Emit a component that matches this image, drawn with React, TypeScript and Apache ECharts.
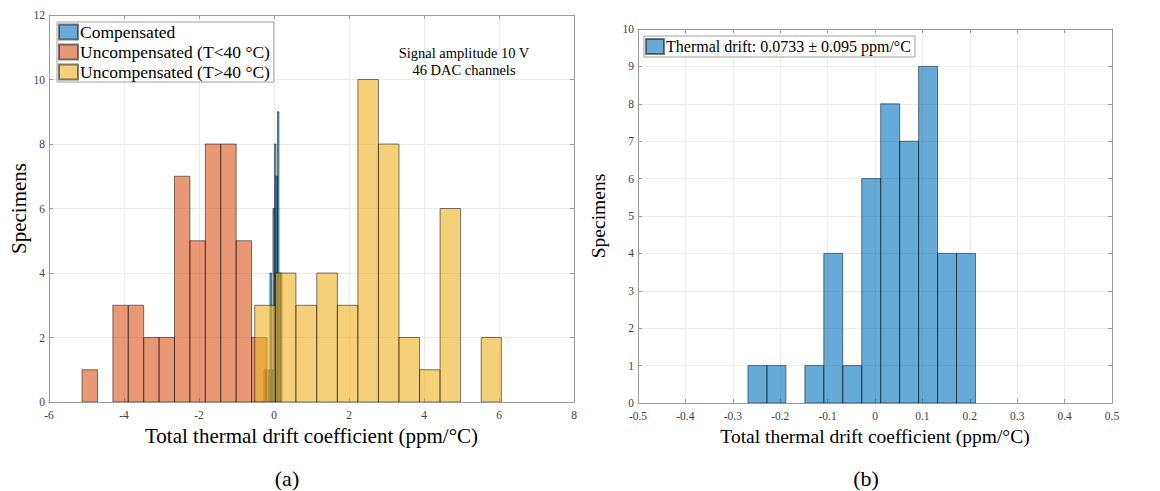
import React, { useEffect, useRef } from "react";
import * as echarts from "echarts";

// ---- data ----
// Compensated channels: bin edges and counts (same data in both panels)
const compEdges = [-0.268, -0.228, -0.188, -0.148, -0.108, -0.068, -0.028, 0.012, 0.052, 0.092, 0.132, 0.172, 0.212];
const compCounts = [1, 1, 0, 1, 4, 1, 6, 8, 7, 9, 4, 4];
// Uncompensated, T < 40 °C
const lowEdges = [-5.119, -4.708, -4.297, -3.886, -3.475, -3.064, -2.653, -2.242, -1.831, -1.42, -1.009, -0.598, -0.187];
const lowCounts = [1, 0, 3, 3, 2, 2, 7, 5, 8, 8, 5, 2];
// Uncompensated, T > 40 °C
const highEdges = [-0.515, 0.04, 0.585, 1.14, 1.69, 2.237, 2.785, 3.333, 3.881, 4.429, 4.977, 5.525, 6.063];
const highCounts = [3, 4, 3, 4, 3, 10, 8, 2, 1, 6, 0, 2];

const leftXTicks = { min: -6, max: 8, interval: 2 };
const leftYTicks = { min: 0, max: 12, interval: 2 };
const rightXTicks = { min: -0.5, max: 0.5, interval: 0.1 };
const rightYTicks = { min: 0, max: 10, interval: 1 };

const seriesNames = ["Compensated", "Uncompensated (T<40 °C)", "Uncompensated (T>40 °C)"];
const rightSeriesName = "Thermal drift: 0.0733 ± 0.095 ppm/°C";
const xTitle = "Total thermal drift coefficient (ppm/°C)";
const yTitle = "Specimens";
const annotation = ["Signal amplitude 10 V", "46 DAC channels"];

const FONT = '"Liberation Serif", "Times New Roman", serif';
const BLUE = "rgba(0,114,189,0.6)";
const ORANGE = "rgba(217,83,25,0.6)";
const YELLOW = "rgba(237,177,32,0.6)";
const EDGE = "rgba(0,0,0,0.5)";

function bins(edges: number[], counts: number[]) {
  return counts.map((c, i) => [edges[i], edges[i + 1], c]);
}

function histSeries(name: string, edges: number[], counts: number[], color: string, xi: number, yi: number) {
  return {
    type: "custom",
    name,
    xAxisIndex: xi,
    yAxisIndex: yi,
    clip: true,
    itemStyle: { color, borderColor: EDGE, borderWidth: 1 },
    encode: { x: [0, 1], y: 2 },
    data: bins(edges, counts),
    renderItem: (params: any, api: any) => {
      const v = api.value(2);
      if (!v) return null;
      const p0 = api.coord([api.value(0), v]);
      const p1 = api.coord([api.value(1), 0]);
      return {
        type: "rect",
        shape: { x: p0[0], y: p0[1], width: p1[0] - p0[0], height: p1[1] - p0[1] },
        style: { fill: color, stroke: EDGE, lineWidth: 1 },
      };
    },
  };
}

const AXIS_LINE = { show: true, onZero: false, lineStyle: { color: "#9a9a9a", width: 1 } };
const TICK = { show: true, inside: true, length: 4, lineStyle: { color: "#9a9a9a" } };
const LABEL = { fontFamily: FONT, fontSize: 11.5, color: "#404040" };
const SPLIT = { show: true, lineStyle: { color: "#ebebeb", width: 1 } };

function fmt(v: number) {
  const r = Math.round(v * 10) / 10;
  return String(r);
}

export default function App() {
  const ref = useRef<HTMLDivElement>(null);
  useEffect(() => {
    if (!ref.current) return;
    const chart = echarts.init(ref.current, null, { renderer: "svg" });
    const option: any = {
      animation: false,
      backgroundColor: "#ffffff",
      grid: [
        { left: 49, top: 15, width: 525, height: 387 },
        { left: 638, top: 29, width: 474, height: 374 },
      ],
      xAxis: [
        {
          gridIndex: 0, type: "value", position: "bottom", ...leftXTicks,
          axisLine: AXIS_LINE, axisTick: TICK, splitLine: SPLIT,
          axisLabel: { ...LABEL, margin: 7, formatter: fmt },
          name: xTitle, nameLocation: "middle", nameGap: 23,
          nameTextStyle: { fontFamily: FONT, fontSize: 21, color: "#000", verticalAlign: "top" },
        },
        {
          gridIndex: 0, type: "value", position: "top", ...leftXTicks,
          axisLine: AXIS_LINE, axisTick: TICK, splitLine: { show: false }, axisLabel: { show: false },
        },
        {
          gridIndex: 1, type: "value", position: "bottom", ...rightXTicks,
          axisLine: AXIS_LINE, axisTick: TICK, splitLine: SPLIT,
          axisLabel: { ...LABEL, margin: 7, formatter: fmt },
          name: xTitle, nameLocation: "middle", nameGap: 23,
          nameTextStyle: { fontFamily: FONT, fontSize: 19.5, color: "#000", verticalAlign: "top" },
        },
        {
          gridIndex: 1, type: "value", position: "top", ...rightXTicks,
          axisLine: AXIS_LINE, axisTick: TICK, splitLine: { show: false }, axisLabel: { show: false },
        },
      ],
      yAxis: [
        {
          gridIndex: 0, type: "value", position: "left", ...leftYTicks,
          axisLine: AXIS_LINE, axisTick: TICK, splitLine: SPLIT,
          axisLabel: { ...LABEL, margin: 4 },
          name: yTitle, nameLocation: "middle", nameGap: 20,
          nameTextStyle: { fontFamily: FONT, fontSize: 21, color: "#000" },
        },
        {
          gridIndex: 0, type: "value", position: "right", ...leftYTicks,
          axisLine: AXIS_LINE, axisTick: TICK, splitLine: { show: false }, axisLabel: { show: false },
        },
        {
          gridIndex: 1, type: "value", position: "left", ...rightYTicks,
          axisLine: AXIS_LINE, axisTick: TICK, splitLine: SPLIT,
          axisLabel: { ...LABEL, margin: 4 },
          name: yTitle, nameLocation: "middle", nameGap: 30,
          nameTextStyle: { fontFamily: FONT, fontSize: 19.5, color: "#000" },
        },
        {
          gridIndex: 1, type: "value", position: "right", ...rightYTicks,
          axisLine: AXIS_LINE, axisTick: TICK, splitLine: { show: false }, axisLabel: { show: false },
        },
      ],
      legend: [
        {
          orient: "vertical", left: 57, top: 22, data: seriesNames,
          icon: "rect", itemWidth: 19, itemHeight: 15, itemGap: 2,
          padding: [1, 4, 1, 1],
          backgroundColor: "#fff", borderColor: "#a0a0a0", borderWidth: 1,
          textStyle: { fontFamily: FONT, fontSize: 17.5, color: "#000", lineHeight: 18, padding: [0, 0, 0, -3] },
          selectedMode: false,
        },
        {
          orient: "vertical", left: 644, top: 36, data: [rightSeriesName],
          icon: "rect", itemWidth: 18, itemHeight: 15, itemGap: 2,
          padding: [2, 4, 2, 1],
          backgroundColor: "#fff", borderColor: "#a0a0a0", borderWidth: 1,
          textStyle: { fontFamily: FONT, fontSize: 16, color: "#000", lineHeight: 16, padding: [0, 0, 0, -3] },
          selectedMode: false,
        },
      ],
      graphic: [
        {
          type: "text", x: 464, y: 44, z: 10,
          style: {
            text: annotation.join("\n"), fontFamily: FONT, fontSize: 14.5, lineHeight: 17,
            fill: "#000", align: "center", verticalAlign: "top",
          },
        },
        {
          type: "text", x: 287, y: 478, z: 10,
          style: { text: "(a)", fontFamily: FONT, fontSize: 22, fill: "#000", align: "center", verticalAlign: "middle" },
        },
        {
          type: "text", x: 866, y: 478, z: 10,
          style: { text: "(b)", fontFamily: FONT, fontSize: 22, fill: "#000", align: "center", verticalAlign: "middle" },
        },
      ],
      series: [
        histSeries(seriesNames[0], compEdges, compCounts, BLUE, 0, 0),
        histSeries(seriesNames[1], lowEdges, lowCounts, ORANGE, 0, 0),
        histSeries(seriesNames[2], highEdges, highCounts, YELLOW, 0, 0),
        histSeries(rightSeriesName, compEdges, compCounts, BLUE, 2, 2),
      ],
    };
    chart.setOption(option);
    return () => chart.dispose();
  }, []);
  return (
    <div
      ref={ref}
      style={{ position: "fixed", left: 0, top: 0, width: 1160, height: 491, background: "#fff" }}
    />
  );
}
